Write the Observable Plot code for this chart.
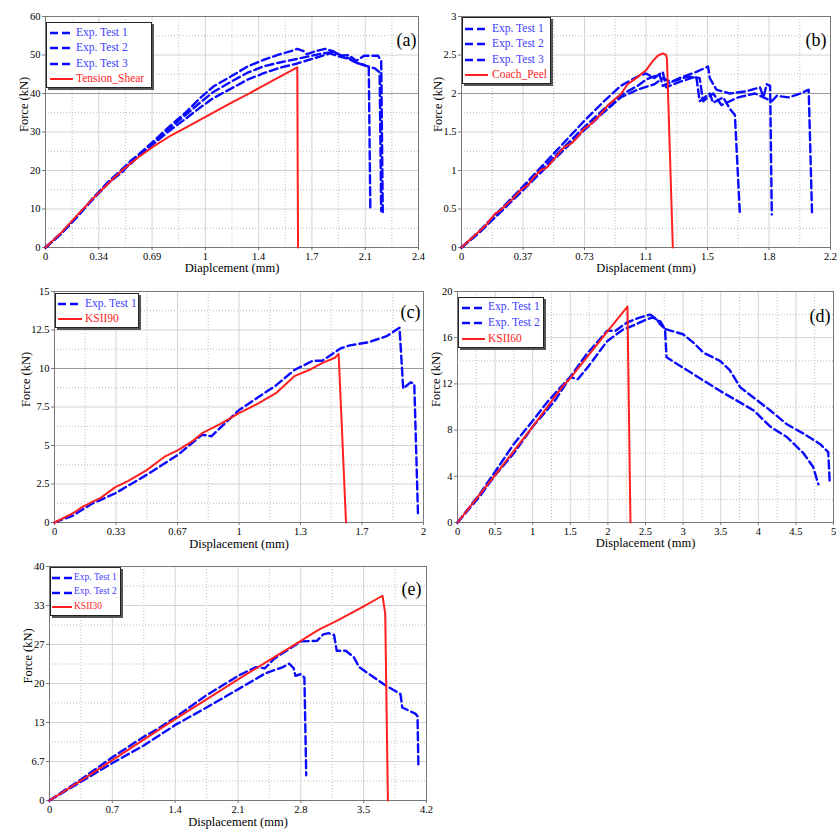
<!DOCTYPE html>
<html><head><meta charset="utf-8">
<script src="https://cdn.jsdelivr.net/npm/d3@7"></script>
<script src="https://cdn.jsdelivr.net/npm/@observablehq/plot@0.6"></script>
<style>
body{margin:0;background:#fff;}
#root{position:relative;width:840px;height:837px;font-family:"Liberation Serif","Times New Roman",Times,serif;overflow:hidden;}
.panel{position:absolute;}
.panel svg{overflow:visible;}
.panel svg text{font-family:"Liberation Serif","Times New Roman",Times,serif;}
.legend{position:absolute;background:#fff;border:1px solid #222;box-shadow:2px 2px 0 #555;box-sizing:border-box;}
.row{position:absolute;white-space:nowrap;line-height:1;font-family:"Liberation Serif","Times New Roman",Times,serif;}
</style></head><body><div id="root"></div>
<script>
// ---------- (a) Tension_Shear ----------
const aXLabels = ["0","0.34","0.69","1","1.4","1.7","2.1","2.4"];
const aYLabels = ["0","10","20","30","40","50","60"];
const aTest1 = [[0,0],[0.1,3.5],[0.2,7.8],[0.3,12.6],[0.4,16.9],[0.5,20.6],[0.55,22.4],[0.6,24.2],[0.7,27.8],[0.8,31.5],[0.9,35.0],[1.0,39.0],[1.08,41.8],[1.2,44.6],[1.3,47.0],[1.4,48.7],[1.5,50.1],[1.58,51.0],[1.62,51.6],[1.66,51.0],[1.68,50.2],[1.74,51.0],[1.8,51.6],[1.85,51.0],[1.9,49.8],[1.95,50.0],[2.0,48.5],[2.05,49.8],[2.14,49.8],[2.16,48.5],[2.17,9.2]];
const aTest2 = [[0,0],[0.1,3.7],[0.2,8.0],[0.3,12.4],[0.4,16.6],[0.5,19.8],[0.55,22.6],[0.6,24.0],[0.7,27.4],[0.8,31.0],[0.9,34.4],[1.0,37.8],[1.08,40.4],[1.2,43.2],[1.3,45.4],[1.4,47.0],[1.5,48.0],[1.62,49.0],[1.77,50.3],[1.85,50.8],[1.9,50.0],[1.95,49.2],[2.0,48.0],[2.05,47.4],[2.08,46.8],[2.09,10.1]];
const aTest3 = [[0,0],[0.1,3.6],[0.2,7.9],[0.3,12.3],[0.4,16.5],[0.5,20.2],[0.55,21.8],[0.6,23.8],[0.7,27.1],[0.8,30.4],[0.9,33.4],[1.0,36.5],[1.08,38.8],[1.2,41.4],[1.3,43.6],[1.4,45.2],[1.5,46.6],[1.62,47.8],[1.7,48.8],[1.83,50.4],[1.9,49.5],[1.95,49.0],[2.0,48.0],[2.08,47.0],[2.12,46.5],[2.15,45.5],[2.16,9.5]];
const aSim = [[0,0],[0.1,3.8],[0.2,8.2],[0.3,12.5],[0.4,16.5],[0.5,20.3],[0.6,23.5],[0.7,26.4],[0.8,28.9],[0.9,31.1],[1.0,33.3],[1.1,35.5],[1.2,37.7],[1.3,39.8],[1.4,42.0],[1.5,44.2],[1.62,46.8],[1.625,0]];

// ---------- (b) Coach_Peel ----------
const bXLabels = ["0","0.37","0.73","1.1","1.5","1.8","2.2"];
const bYLabels = ["0","0.5","1","1.5","2","2.5","3"];
const bTest1 = [[0,0],[0.1,0.2],[0.2,0.42],[0.37,0.8],[0.55,1.22],[0.73,1.64],[0.85,1.9],[0.95,2.1],[1.05,2.22],[1.1,2.26],[1.15,2.2],[1.2,2.28],[1.22,2.08],[1.3,2.15],[1.4,2.22],[1.42,1.9],[1.48,2.0],[1.5,1.88],[1.56,1.95],[1.6,1.8],[1.63,1.72],[1.66,0.42]];
const bTest2 = [[0,0],[0.1,0.19],[0.2,0.4],[0.37,0.77],[0.55,1.17],[0.73,1.56],[0.85,1.8],[0.95,1.98],[1.05,2.1],[1.1,2.18],[1.18,2.25],[1.2,2.1],[1.3,2.2],[1.4,2.28],[1.47,2.35],[1.48,2.2],[1.52,2.05],[1.6,2.0],[1.7,2.03],[1.78,2.08],[1.8,1.95],[1.82,2.12],[1.84,2.1],[1.85,0.43]];
const bTest3 = [[0,0],[0.1,0.18],[0.2,0.39],[0.37,0.75],[0.55,1.14],[0.73,1.52],[0.85,1.76],[0.95,1.95],[1.05,2.05],[1.15,2.12],[1.2,2.2],[1.25,2.15],[1.35,2.22],[1.42,2.2],[1.44,1.9],[1.5,2.0],[1.55,1.85],[1.65,1.95],[1.75,2.0],[1.8,1.95],[1.85,1.9],[1.88,1.97],[1.95,1.95],[2.02,2.0],[2.07,2.05],[2.09,0.44]];
const bSim = [[0,0],[0.05,0.1],[0.09,0.18],[0.15,0.3],[0.2,0.44],[0.23,0.48],[0.3,0.62],[0.35,0.74],[0.4,0.82],[0.43,0.91],[0.47,1.0],[0.51,1.04],[0.56,1.17],[0.61,1.3],[0.66,1.36],[0.69,1.43],[0.73,1.54],[0.77,1.6],[0.79,1.64],[0.83,1.73],[0.87,1.84],[0.91,1.92],[0.95,1.99],[0.99,2.12],[1.03,2.18],[1.07,2.25],[1.1,2.3],[1.14,2.42],[1.17,2.49],[1.2,2.52],[1.22,2.5],[1.225,2.45],[1.26,0]];

// ---------- (c) KSII90 ----------
const cXLabels = ["0","0.33","0.67","1","1.3","1.7","2"];
const cYLabels = ["0","2.5","5","7.5","10","12.5","15"];
const cTest1 = [[0,0],[0.1,0.45],[0.2,1.2],[0.33,1.9],[0.5,3.1],[0.67,4.4],[0.8,5.7],[0.85,5.6],[1.0,7.3],[1.1,8.1],[1.2,8.9],[1.3,9.9],[1.4,10.5],[1.45,10.5],[1.5,10.9],[1.55,11.3],[1.6,11.5],[1.65,11.6],[1.7,11.7],[1.75,11.9],[1.8,12.1],[1.87,12.65],[1.89,8.7],[1.93,9.1],[1.95,9.0],[1.97,0.6]];
const cSim = [[0,0],[0.05,0.3],[0.1,0.6],[0.15,1.0],[0.2,1.3],[0.25,1.6],[0.33,2.3],[0.4,2.7],[0.5,3.4],[0.6,4.3],[0.67,4.7],[0.75,5.3],[0.8,5.8],[0.9,6.4],[1.0,7.1],[1.1,7.7],[1.2,8.4],[1.3,9.5],[1.38,9.9],[1.45,10.35],[1.52,10.7],[1.54,10.95],[1.58,0]];

// ---------- (d) KSII60 ----------
const dXLabels = ["0","0.5","1","1.5","2","2.5","3","3.5","4","4.5","5"];
const dYLabels = ["0","4","8","12","16","20"];
const dTest1 = [[0,0],[0.3,2.5],[0.5,4.4],[0.75,6.8],[1.0,8.8],[1.19,10.4],[1.37,11.7],[1.5,12.6],[1.72,14.6],[1.99,16.6],[2.1,16.6],[2.25,17.3],[2.4,17.7],[2.56,18.0],[2.65,17.6],[2.69,17.2],[2.76,16.75],[3.0,16.3],[3.15,15.5],[3.27,14.7],[3.49,14.0],[3.62,13.2],[3.76,11.7],[3.94,10.8],[4.16,9.7],[4.38,8.5],[4.6,7.7],[4.82,6.8],[4.93,6.1],[4.95,3.4]];
const dTest2 = [[0,0],[0.3,2.3],[0.5,4.1],[0.75,6.0],[1.0,8.3],[1.2,9.8],[1.3,10.6],[1.4,11.6],[1.5,12.6],[1.6,12.4],[1.75,13.6],[1.99,15.7],[2.2,16.7],[2.35,17.1],[2.52,17.6],[2.6,17.75],[2.7,17.4],[2.76,16.7],[2.78,14.3],[3.05,13.2],[3.49,11.4],[3.94,9.7],[4.16,8.3],[4.38,7.4],[4.6,6.0],[4.73,4.8],[4.78,3.7],[4.8,3.3]];
const dSim = [[0,0],[0.5,4.1],[1.0,8.3],[1.4,11.8],[1.5,12.5],[2.0,16.6],[2.26,18.7],[2.3,0]];

// ---------- (e) KSII30 ----------
const eXLabels = ["0","0.7","1.4","2.1","2.8","3.5","4.2"];
const eYLabels = ["0","6.7","13","20","27","33","40"];
const eTest1 = [[0,0],[0.35,3.6],[0.7,7.4],[1.05,10.9],[1.2,12.2],[1.4,14.2],[1.75,18.0],[2.1,21.3],[2.3,22.8],[2.4,22.6],[2.5,24.2],[2.8,27.2],[2.98,27.3],[3.05,28.4],[3.11,28.6],[3.17,28.3],[3.2,25.6],[3.3,25.6],[3.39,24.5],[3.45,22.8],[3.6,21.2],[3.72,19.9],[3.91,18.2],[3.93,15.9],[4.08,14.8],[4.1,14.4],[4.11,5.7]];
const eTest2 = [[0,0],[0.35,3.2],[0.7,6.4],[1.05,9.4],[1.4,12.9],[1.75,15.9],[2.1,19.0],[2.4,21.7],[2.6,22.8],[2.67,23.4],[2.72,22.6],[2.74,21.3],[2.8,21.6],[2.84,21.0],[2.86,4.3]];
const eSim = [[0,0],[0.35,3.4],[0.7,6.9],[1.05,10.4],[1.4,13.9],[1.75,17.3],[2.1,20.7],[2.45,24.0],[2.8,27.3],[3.0,29.2],[3.2,30.7],[3.5,33.2],[3.71,35.0],[3.74,32.0],[3.77,0]];

const BLUE = "#0a0aff", RED = "#ff2020";
const BLUE_TXT = "#3c3cff", RED_TXT = "#ff1a1a";
const FONT = '"Liberation Serif", "Times New Roman", Times, serif';

const root = document.getElementById("root");

function ticks(max, n) { return d3.range(n + 1).map(i => i * max / n); }
function mids(t) { return t.slice(0, -1).map((v, i) => (v + t[i + 1]) / 2); }
function labeler(t, labels) { return d => labels[t.findIndex(v => Math.abs(v - d) < 1e-9)]; }

function panel(c) {
  const xT = ticks(c.xMax, c.xLabels.length - 1);
  const yT = ticks(c.yMax, c.yLabels.length - 1);
  const lines = c.series.map(s => Plot.line(s.data, {
    x: d => d[0], y: d => d[1], stroke: s.sim ? RED : BLUE,
    strokeWidth: s.sim ? 2 : 2.4, strokeDasharray: s.sim ? null : "8,4",
    strokeLinejoin: "round"
  }));
  const svg = Plot.plot({
    width: c.w, height: c.h,
    marginLeft: c.m[0], marginRight: c.m[1], marginTop: c.m[2], marginBottom: c.m[3],
    x: {domain: [0, c.xMax]}, y: {domain: [0, c.yMax]},
    style: {fontFamily: FONT, fontSize: "10px", color: "#000", background: "transparent", overflow: "visible"},
    marks: [
      Plot.ruleX(mids(xT), {stroke: "#bdbdbd", strokeDasharray: "1,2"}),
      Plot.ruleY(mids(yT), {stroke: "#bdbdbd", strokeDasharray: "1,2"}),
      Plot.ruleX(xT, {stroke: "#d4d4d4"}),
      Plot.ruleY(yT, {stroke: "#d4d4d4"}),
      c.dark != null ? Plot.ruleY([c.dark], {stroke: "#9a9a9a"}) : null,
      Plot.frame({stroke: "#777"}),
      Plot.axisX({ticks: xT, tickFormat: labeler(xT, c.xLabels), tickSize: 3, tickPadding: 2, label: null, stroke: "#777", fontSize: 10.5}),
      Plot.axisY({ticks: yT, tickFormat: labeler(yT, c.yLabels), tickSize: 3, tickPadding: 2, label: null, stroke: "#777", fontSize: 10.5}),
      ...lines,
      Plot.text([c.xTitle], {text: d => d, frameAnchor: "bottom", dy: c.xdy, fontSize: 12.5}),
      Plot.text(["Force (kN)"], {text: d => d, frameAnchor: "left", rotate: -90, dx: c.ydx, fontSize: 12.5}),
      Plot.text([c.tag], {text: d => d, frameAnchor: "top-right", textAnchor: "end", dx: c.tdx, dy: c.tdy, fontSize: 18})
    ]
  });
  const div = document.createElement("div");
  div.className = "panel";
  div.style.left = c.left + "px"; div.style.top = c.top + "px";
  div.appendChild(svg);
  root.appendChild(div);

  // legend box
  const L = c.legend;
  const box = document.createElement("div");
  box.className = "legend";
  Object.assign(box.style, {left: L.x + "px", top: L.y + "px", width: L.w + "px", height: L.h + "px"});
  c.series.forEach((s, i) => {
    const cy = L.rows[i] - L.y - 1;
    const ns = "http://www.w3.org/2000/svg";
    const sv = document.createElementNS(ns, "svg");
    sv.setAttribute("width", L.s2 - L.s1); sv.setAttribute("height", 6);
    sv.style.position = "absolute"; sv.style.left = (L.s1 - L.x - 1) + "px"; sv.style.top = (cy - 3) + "px";
    const ln = document.createElementNS(ns, "line");
    ln.setAttribute("x1", 0); ln.setAttribute("x2", L.s2 - L.s1); ln.setAttribute("y1", 3); ln.setAttribute("y2", 3);
    ln.setAttribute("stroke", s.sim ? RED : BLUE); ln.setAttribute("stroke-width", s.sim ? 2 : 2.4);
    if (!s.sim) ln.setAttribute("stroke-dasharray", "8,4");
    sv.appendChild(ln);
    box.appendChild(sv);
    const t = document.createElement("div");
    t.className = "row";
    t.textContent = s.name;
    Object.assign(t.style, {left: (L.tx - L.x - 1) + "px", top: (cy - L.fs * 0.55) + "px", fontSize: L.fs + "px", color: s.sim ? RED_TXT : BLUE_TXT});
    box.appendChild(t);
  });
  root.appendChild(box);
}

panel({left: 0, top: 0, w: 420, h: 280, m: [45, 2, 16, 33], xMax: 2.4, yMax: 60,
  xLabels: aXLabels, yLabels: aYLabels, dark: 40, xTitle: "Diaplcement (mm)", xdy: 24, ydx: -22, tag: "(a)", tdx: -2, tdy: 17,
  series: [{name: "Exp. Test 1", data: aTest1}, {name: "Exp. Test 2", data: aTest2}, {name: "Exp. Test 3", data: aTest3}, {name: "Tension_Shear", data: aSim, sim: true}],
  legend: {x: 46, y: 22, w: 106, h: 66, rows: [33, 48.3, 64, 79], s1: 50, s2: 73, tx: 76, fs: 11.5}});

panel({left: 420, top: 0, w: 420, h: 280, m: [41, 10, 16, 33], xMax: 2.2, yMax: 3,
  xLabels: bXLabels, yLabels: bYLabels, dark: 2, xTitle: "Displacement (mm)", xdy: 24, ydx: -24, tag: "(b)", tdx: -4, tdy: 17,
  series: [{name: "Exp. Test 1", data: bTest1}, {name: "Exp. Test 2", data: bTest2}, {name: "Exp. Test 3", data: bTest3}, {name: "Coach_Peel", data: bSim, sim: true}],
  legend: {x: 462, y: 17, w: 89, h: 67, rows: [29.3, 44.3, 60, 75], s1: 465, s2: 488, tx: 492, fs: 11.5}});

panel({left: 0, top: 280, w: 430, h: 270, m: [54, 7, 11, 28], xMax: 2, yMax: 15,
  xLabels: cXLabels, yLabels: cYLabels, dark: 10, xTitle: "Displacement (mm)", xdy: 25.5, ydx: -29, tag: "(c)", tdx: -3, tdy: 14,
  series: [{name: "Exp. Test 1", data: cTest1}, {name: "KSII90", data: cSim, sim: true}],
  legend: {x: 55, y: 293, w: 84, h: 35, rows: [304, 319], s1: 58, s2: 82, tx: 85, fs: 11.5}});

panel({left: 420, top: 280, w: 420, h: 270, m: [37, 7, 11, 28], xMax: 5, yMax: 20,
  xLabels: dXLabels, yLabels: dYLabels, dark: null, xTitle: "Displacement (mm)", xdy: 24, ydx: -22, tag: "(d)", tdx: -3, tdy: 18,
  series: [{name: "Exp. Test 1", data: dTest1}, {name: "Exp. Test 2", data: dTest2}, {name: "KSII60", data: dSim, sim: true}],
  legend: {x: 458, y: 297, w: 86, h: 51, rows: [307.7, 323.3, 339], s1: 462, s2: 485, tx: 488, fs: 11.5}});

panel({left: 0, top: 550, w: 430, h: 287, m: [49, 4, 16, 37], xMax: 4.2, yMax: 40,
  xLabels: eXLabels, yLabels: eYLabels, dark: null, xTitle: "Displacement (mm)", xdy: 25, ydx: -22, tag: "(e)", tdx: -5, tdy: 16,
  series: [{name: "Exp. Test 1", data: eTest1}, {name: "Exp. Test 2", data: eTest2}, {name: "KSII30", data: eSim, sim: true}],
  legend: {x: 50, y: 567, w: 71, h: 49, rows: [578, 592.7, 607], s1: 52, s2: 72, tx: 74, fs: 9.5}});
</script>
</body></html>
